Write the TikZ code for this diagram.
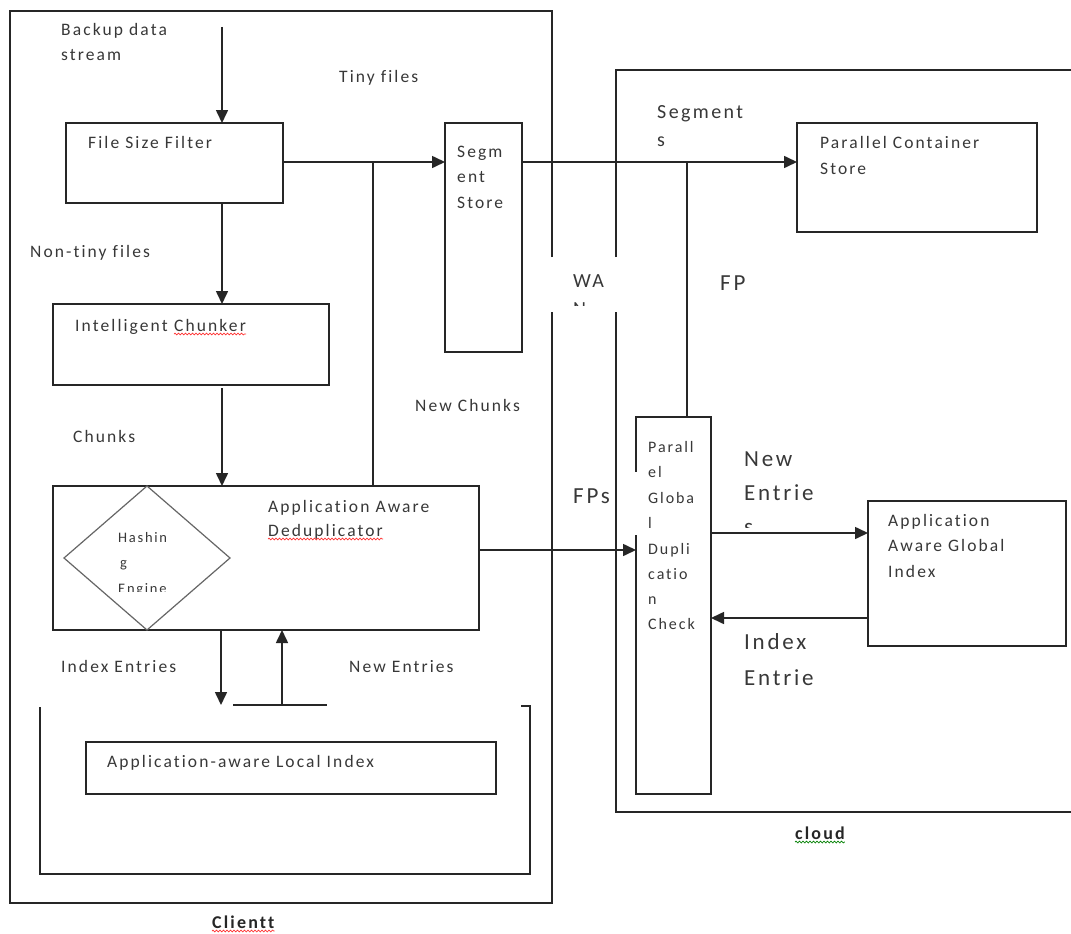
\documentclass[tikz,border=0pt]{standalone}
\usepackage{fontspec}
\setmainfont{Carlito}[LetterSpace=12,Ligatures=NoCommon]
\usetikzlibrary{arrows.meta,shapes.geometric,decorations.pathmorphing}
\begin{document}
\begin{tikzpicture}[x=1pt,y=-1pt,
  ln/.style={line width=1.6pt, draw=black!85},
  box/.style={ln, inner sep=0pt, outer sep=0pt, anchor=north west, rectangle},
  arr/.style={ln, -{Triangle[length=13pt,width=12pt]}},
  lbl/.style={inner sep=0pt, anchor=base west, text=black!78, font=\fontsize{17.5}{20}\selectfont},
  mid/.style={lbl, font=\fontsize{20}{24}\selectfont},
  big/.style={lbl, font=\fontsize{23}{26}\selectfont},
  pg/.style={lbl, font=\fontsize{16}{19}\selectfont},
  small/.style={lbl, font=\fontsize{14.5}{17}\selectfont},
  ttl/.style={lbl, text=black!85, font=\bfseries\fontsize{18}{20}\selectfont},
  wavy/.style={line width=0.7pt, decorate, decoration={snake, amplitude=0.9pt, segment length=3.5pt}},
]
\fill[white] (0,0) rectangle (1071,934);
\useasboundingbox (0,0) rectangle (1071,934);

% containers
\draw[ln] (552,257) -- (552,11) -- (10,11) -- (10,903) -- (552,903) -- (552,312);
\draw[ln] (616,257) -- (616,70) -- (1071,70);
\draw[ln] (1071,812) -- (616,812) -- (616,312);

% WAN label (clipped)
\begin{scope}
  \clip (555,262) rectangle (614,305);
  \node[mid] (wa) at (573,287) {WA};
  \node[mid] (wn) at (573,315) {N};
\end{scope}

% boxes
\node[box, minimum width=217pt, minimum height=80pt] (fsf) at (66,123) {};
\node[box, minimum width=276pt, minimum height=81pt] (ic) at (53,304) {};
\node[box, minimum width=426pt, minimum height=144pt] (dd) at (53,486) {};
\node[box, minimum width=77pt, minimum height=229pt] (ss) at (445,123) {};
\node[box, minimum width=240pt, minimum height=109pt] (pcs) at (797,123) {};
\node[box, minimum width=75pt, minimum height=377pt] (pgdc) at (636,417) {};
\draw[white, line width=3pt] (pgdc.west |- 0,472) -- (pgdc.west |- 0,535);
\node[box, minimum width=198pt, minimum height=145pt] (gi) at (868,501) {};
\node[box, minimum width=410pt, minimum height=52pt] (li) at (86,742) {};

% hashing engine diamond
\node[draw=black!60, line width=1.2pt, shape=diamond, minimum width=166pt, minimum height=144pt, inner sep=0pt, outer sep=0pt] (he) at (147,558) {};
\begin{scope}
  \clip (60,480) rectangle (240,591);
  \node[small] (h1) at (118,542) {Hashin};
  \node[small] (h2) at (120,567) {g};
  \node[small] (h3) at (118,593) {Engine};
\end{scope}

% connectors
\coordinate (top) at (222,27);
\draw[arr] (top) -- (top |- fsf.north);
\draw[arr] (fsf.south -| top) -- (ic.north -| top);
\draw[arr] ([yshift=-3pt]ic.south -| top) -- (dd.north -| top);
\coordinate (j1) at (373,162);
\draw[arr] (fsf.east |- j1) -- (ss.west |- j1);
\draw[ln] (j1) -- (dd.north -| j1);
\coordinate (j2) at (687,162);
\draw[arr] (ss.east |- j2) -- (pcs.west |- j2);
\draw[ln] (j2) -- (pgdc.north -| j2);
\coordinate (fpy) at (0,550);
\draw[arr] (dd.east |- fpy) -- (pgdc.west |- fpy);
\coordinate (ney) at (0,533);
\draw[arr] (pgdc.east |- ney) -- (gi.west |- ney);
\coordinate (iey) at (0,618);
\draw[arr] (gi.west |- iey) -- (pgdc.east |- iey);
\coordinate (dn) at (221,705);
\draw[arr] (dd.south -| dn) -- (dn);
\coordinate (up) at (282,705);
\draw[arr] (up) -- (dd.south -| up);
\coordinate (hl) at (233,705);
\coordinate (hr) at (327,705);
\draw[ln] (hl) -- (hr);
\draw[ln] (521,706) -- (530,706) -- (530,874) -- (40,874) -- (40,707);

% labels
\node[lbl] (bk1) at (61,36) {Backup data};
\node[lbl] (bk2) at (61,61) {stream};
\node[lbl] (tf) at (339,83) {Tiny files};
\node[lbl] (fsft) at (88,148) {File Size Filter};
\node[lbl] (ss1) at (457,157) {Segm};
\node[lbl] (ss2) at (457,182) {ent};
\node[lbl] (ss3) at (457,208) {Store};
\node[mid] (sg1) at (657,118) {Segment};
\node[mid] (sg2) at (657,146) {s};
\node[lbl] (pc1) at (820,148) {Parallel Container};
\node[lbl] (pc2) at (820,174) {Store};
\node[big] (fpl) at (720,290) {FP};
\node[lbl] (nt) at (30,257) {Non-tiny files};
\node[lbl] (ic1) at (75,331) {Intelligent};
\node[lbl] (ic2) at (174,331) {Chunker};
\draw[wavy, red!80] ([yshift=-3pt]ic2.base west) -- ([yshift=-3pt]ic2.base east);
\node[lbl] (ch) at (73,442) {Chunks};
\node[lbl] (nc) at (415,411) {New Chunks};
\node[lbl] (dd1) at (268,512) {Application Aware};
\node[lbl] (dd2) at (268,536) {Deduplicator};
\draw[wavy, red!80] ([yshift=-3pt]dd2.base west) -- ([yshift=-3pt]dd2.base east);
\node[big] (fps) at (573,503) {FPs};
\node[pg] (p1) at (648,452) {Parall};
\node[pg] (p2) at (648,477) {el};
\node[pg] (p3) at (648,503) {Globa};
\node[pg] (p4) at (648,528) {l};
\node[pg] (p5) at (648,554) {Dupli};
\node[pg] (p6) at (648,579) {catio};
\node[pg] (p7) at (648,604) {n};
\node[pg] (p8) at (648,629) {Check};
\node[big] (ne1) at (744,466) {New};
\node[big] (ne2) at (744,500) {Entrie};
\begin{scope}
  \clip (740,505) rectangle (800,527);
  \node[big] (ne3) at (744,534) {s};
\end{scope}
\node[lbl] (gi1) at (888,526) {Application};
\node[lbl] (gi2) at (888,551) {Aware Global};
\node[lbl] (gi3) at (888,577) {Index};
\node[big] (ie1) at (744,649) {Index};
\node[big] (ie2) at (744,685) {Entrie};
\node[lbl] (ien) at (61,672) {Index Entries};
\node[lbl] (nen) at (349,672) {New Entries};
\node[lbl] (lit) at (107,767) {Application-aware Local Index};
\node[ttl] (cl) at (212,928) {Clientt};
\draw[wavy, red!80] ([yshift=-3pt]cl.base west) -- ([yshift=-3pt]cl.base east);
\node[ttl] (cd) at (795,839) {cloud};
\draw[wavy, green!50!black] ([yshift=-3pt]cd.base west) -- ([yshift=-3pt]cd.base east);
\end{tikzpicture}
\end{document}
